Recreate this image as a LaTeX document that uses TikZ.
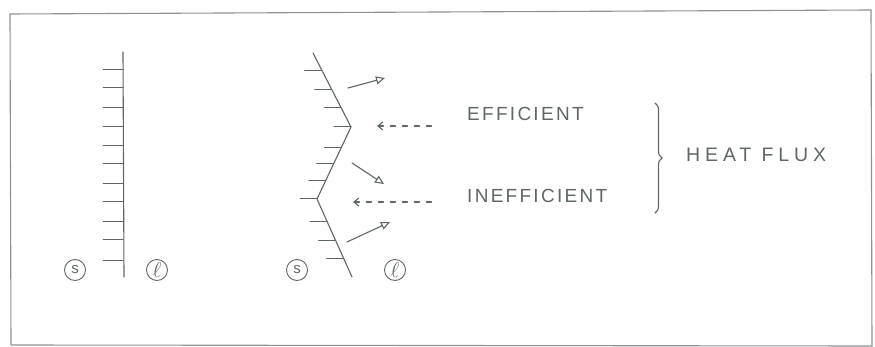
\documentclass[tikz,border=0pt]{standalone}
\usepackage{fontspec}
\setmainfont{Liberation Sans}
\usetikzlibrary{arrows.meta,calc,decorations.pathreplacing}
\definecolor{pencil}{RGB}{95,102,102}
\definecolor{pencilframe}{RGB}{140,146,146}
\tikzset{
  pen/.style={draw=pencil, line width=1.1pt, line cap=round},
  tickmark/.style={draw=pencil, line width=1pt, line cap=round},
  phase/.style={circle, draw=pencil, line width=0.9pt, minimum size=21pt, inner sep=0pt, text=pencil, font=\fontsize{15}{15}\selectfont},
  label/.style={text=pencil, inner sep=0pt, font=\fontsize{19}{19}\selectfont\addfontfeature{LetterSpace=12}},
  widelabel/.style={label, font=\fontsize{19.5}{19.5}\selectfont\addfontfeature{LetterSpace=25}},
  solidarrow/.style={pen, -{Triangle[open,length=9pt,width=8pt]}},
  fluxarrow/.style={pen, dash pattern=on 5pt off 7pt, {Straight Barb[length=5pt,width=8pt]}-}
}
\newcommand{\liqsym}{\scalebox{1.5}{$\ell$}}
\begin{document}
\begin{tikzpicture}[x=1pt,y=-1pt]
\useasboundingbox (0,0) rectangle (875,347);
% frame
\draw[draw=pencilframe, line width=1.1pt] (11,345) -- (10,14) -- (440,12) -- (871,10) -- (872,346) -- (11,345);

% ---- left: planar interface
\coordinate (L1) at (123,52);
\coordinate (L2) at (124,277);
\draw[pen] (L1) -- (L2);
\foreach \y in {70,88,108,127,146,164,184,202,222,240,261}{
  \draw[tickmark] (103,\y) -- (123.3,\y);
}
\node[phase] (s1) at (75,270) {s};
\node[phase] (l1) at (157,270) {\liqsym};

% ---- right: zigzag interface
\coordinate (Z0) at (313,53);
\coordinate (Z1) at (351,127);
\coordinate (Z2) at (317,199);
\coordinate (Z3) at (352,277);
\draw[pen, line join=round] (Z0) -- (Z1) -- (Z2) -- (Z3);
\foreach \t in {0.23,0.49,0.74,1.0}{
  \draw[tickmark] ($(Z0)!\t!(Z1)$) -- ++(-17,0);
}
\foreach \t in {0.28,0.51,0.74}{
  \draw[tickmark] ($(Z1)!\t!(Z2)$) -- ++(-17,0);
}
\foreach \t in {0.0,0.29,0.53,0.76}{
  \draw[tickmark] ($(Z2)!\t!(Z3)$) -- ++(-17,0);
}
\node[phase] (s2) at (297,270) {s};
\node[phase] (l2) at (395,270) {\liqsym};

% growth arrows
\coordinate (a1s) at (348,88);  \coordinate (a1e) at (385,78);
\coordinate (a2s) at (352,163); \coordinate (a2e) at (384,184);
\coordinate (a3s) at (347,242); \coordinate (a3e) at (390,222);
\draw[solidarrow] (a1s) -- (a1e);
\draw[solidarrow] (a2s) -- (a2e);
\draw[solidarrow] (a3s) -- (a3e);

% heat flux arrows
\coordinate (f1e) at (377,126); \coordinate (f1s) at (435,126);
\coordinate (f2e) at (353,202); \coordinate (f2s) at (438,202);
\draw[fluxarrow] (f1e) -- (f1s);
\draw[fluxarrow] (f2e) -- (f2s);

% labels
\node[label, anchor=west] (eff) at (467,114) {EFFICIENT};
\node[label, anchor=west] (ineff) at (467,196) {INEFFICIENT};
\draw[pen, decorate, decoration={brace, amplitude=7pt}] (655,103) -- (655,213);
\node[widelabel, anchor=west] (hf) at (686,155) {HEAT FLUX};
\end{tikzpicture}
\end{document}
